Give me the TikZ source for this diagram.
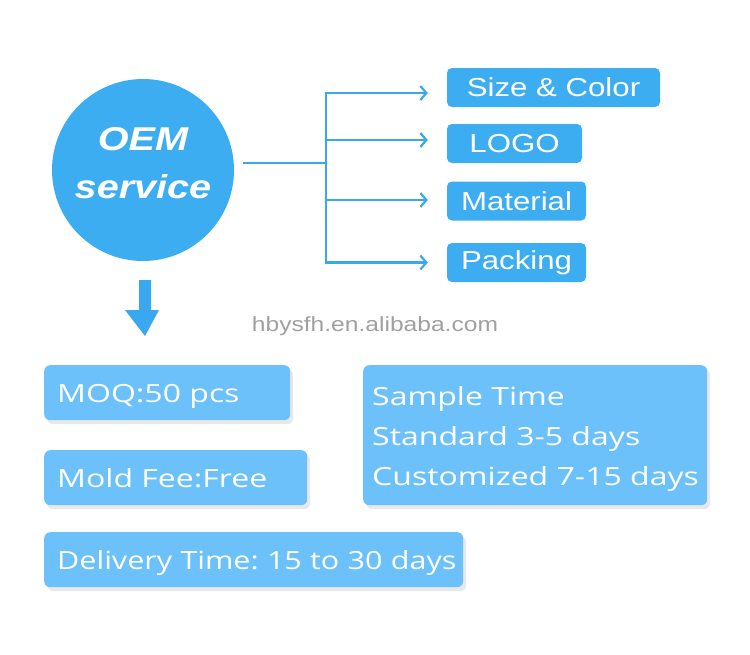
\documentclass[tikz,border=0pt]{standalone}
\usepackage{fontspec}
\setmainfont[FakeStretch=1.2]{Liberation Sans}
\newfontfamily\boxfont[FakeStretch=1.28]{Open Sans}
\newfontfamily\delfont[FakeStretch=1.22]{Open Sans}
\newfontfamily\wmfont[FakeStretch=1.2]{Liberation Sans}
\usetikzlibrary{arrows.meta,shadows}
\definecolor{topblue}{HTML}{3DADF1}
\definecolor{lowblue}{HTML}{6DC1FB}
\definecolor{lineblue}{HTML}{3AA8EE}
\definecolor{wmgray}{HTML}{A0A0A0}
\frenchspacing
\tikzset{
  topbox/.style={fill=topblue, rounded corners=5pt, text=white, inner sep=0pt,
    minimum height=39pt, font=\fontsize{26}{28}\selectfont},
  lowbox/.style={fill=lowblue, rounded corners=6pt, text=white, inner xsep=13pt, inner ysep=0pt,
    align=left, anchor=north west, font=\boxfont\fontsize{25}{40}\selectfont,
    drop shadow={opacity=0.18, shadow xshift=3pt, shadow yshift=-4pt}},
  oneline/.style={minimum height=55pt, text height=27pt, text depth=6.5pt},
  branch/.style={draw=lineblue, line width=2.2pt, -{Straight Barb[length=6pt,width=14pt,line width=2.2pt]}},
}
\begin{document}
\begin{tikzpicture}[x=1pt,y=-1pt]
\useasboundingbox (0,0) rectangle (750,654);
% circle
\node[circle, fill=topblue, minimum size=182pt, inner sep=0pt] (oem) at (143,170) {};
\node[text=white, align=center, font=\bfseries\itshape\fontsize{33}{48}\selectfont]
  (oemtxt) at ([yshift=7pt]oem.center) {OEM\\service};
% branches
\coordinate (start) at (243,163);
\coordinate (j) at (326,163);
\node[topbox, minimum width=213pt] (sc) at (553.5,87.5) {Size \& Color};
\node[topbox, minimum width=135pt] (logo) at (514.5,143.5) {LOGO};
\node[topbox, minimum width=139pt] (mat) at (516.5,201) {Material};
\node[topbox, minimum width=139pt] (pack) at (516.5,262.5) {Packing};
\draw[draw=lineblue, line width=2.2pt] (start) -- (j);
\draw[branch] (j) |- ([xshift=-19pt,yshift=-5.5pt]sc.west);
\draw[branch] (j) |- ([xshift=-19pt,yshift=3.5pt]logo.west);
\draw[branch] (j) |- ([xshift=-19pt,yshift=1pt]mat.west);
\draw[branch] (j) |- ([xshift=-19pt]pack.west);
% down arrow
\fill[lineblue] (139,280) -- (151,280) -- (151,310) -- (159,310) -- (145,336) -- (125,310) -- (139,310) -- cycle;
% watermark
\node[text=wmgray, font=\wmfont\fontsize{20.5}{24}\selectfont] (wm) at (375,326) {hbysfh.en.alibaba.com};
% lower boxes
\node[lowbox, oneline, minimum width=246pt, text width=220pt] (moq) at (44,365) {\mbox{MOQ:50 pcs}};
\node[lowbox, oneline, minimum width=263pt, text width=237pt] (mold) at (44,450) {\mbox{Mold Fee:Free}};
\node[lowbox, oneline, minimum width=419pt, text width=393pt, font=\delfont\fontsize{25}{40}\selectfont] (deliv) at (44,532) {\mbox{Delivery Time: 15 to 30 days}};
\node[lowbox, minimum width=344pt, minimum height=140pt, inner xsep=9pt, text width=326pt, text height=26pt] (sample) at (363,365) {\mbox{Sample Time}\\\mbox{Standard 3-5 days}\\\mbox{Customized 7-15 days}};
\end{tikzpicture}
\end{document}
